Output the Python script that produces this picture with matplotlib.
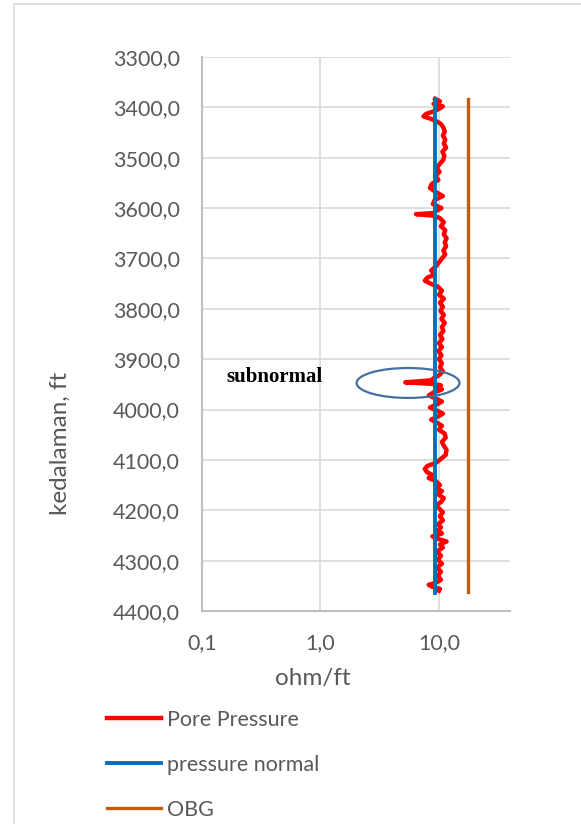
import matplotlib
matplotlib.use('Agg')
import matplotlib.pyplot as plt
from matplotlib.patches import Ellipse, Rectangle
from matplotlib.ticker import FixedLocator, FuncFormatter, NullLocator

# pore pressure trace (depth ft, value)
pore_depth = [3383, 3388, 3393, 3398, 3403, 3408, 3413, 3418, 3423, 3428, 3433, 3440, 3448, 3456,
              3464, 3472, 3480, 3488, 3496, 3504, 3512, 3520, 3528, 3536, 3544, 3552, 3560, 3568,
              3576, 3584, 3592, 3600, 3606, 3610, 3612, 3615, 3620, 3628, 3636, 3644, 3652, 3660,
              3668, 3676, 3684, 3692, 3700, 3708, 3716, 3724, 3732, 3738, 3744, 3750, 3756, 3764,
              3772, 3780, 3788, 3796, 3804, 3812, 3820, 3828, 3836, 3844, 3852, 3860, 3868, 3876,
              3884, 3892, 3900, 3908, 3916, 3924, 3932, 3938, 3942, 3946, 3949, 3952, 3956, 3960,
              3966, 3972, 3978, 3984, 3990, 3996, 4002, 4008, 4014, 4020, 4026, 4032, 4040, 4048,
              4056, 4064, 4072, 4080, 4090, 4098, 4106, 4112, 4118, 4124, 4130, 4136, 4142, 4150,
              4156, 4162, 4168, 4176, 4184, 4190, 4196, 4204, 4212, 4220, 4228, 4234, 4240, 4246,
              4252, 4256, 4262, 4268, 4274, 4282, 4290, 4298, 4306, 4314, 4322, 4330, 4338, 4344,
              4348, 4352, 4356, 4360]
pore_val = [9.3, 10.2, 9.0, 10.8, 10.0, 9.0, 7.8, 7.4, 8.6, 9.6, 10.4, 10.9, 11.2, 10.8,
            11.3, 11.0, 11.5, 10.7, 11.1, 10.9, 10.2, 9.6, 10.1, 9.3, 9.9, 8.7, 8.4, 9.4,
            10.8, 9.2, 8.9, 10.5, 9.4, 9.0, 6.4, 9.0, 10.2, 11.0, 10.4, 11.3, 11.0, 11.6,
            11.2, 11.5, 10.9, 11.3, 10.6, 10.0, 9.4, 8.6, 9.2, 8.0, 7.6, 8.5, 9.8, 10.6,
            10.0, 11.0, 10.2, 10.8, 10.3, 11.0, 10.5, 11.2, 10.6, 10.9, 10.2, 10.7, 10.0, 10.6,
            9.9, 10.5, 10.0, 10.6, 10.2, 10.8, 10.0, 9.0, 8.6, 5.2, 8.8, 10.4, 9.4, 10.6,
            9.0, 8.2, 9.4, 10.6, 9.6, 8.4, 9.6, 10.8, 9.8, 8.6, 9.6, 10.6, 10.0, 11.2,
            11.4, 10.6, 11.0, 11.6, 11.4, 10.4, 9.4, 8.0, 7.6, 7.9, 8.8, 8.2, 9.4, 10.2,
            9.4, 10.6, 9.8, 11.0, 10.4, 9.4, 10.0, 10.8, 10.2, 10.8, 9.8, 10.4, 9.8, 10.6,
            8.8, 9.6, 11.6, 10.2, 10.8, 9.6, 10.4, 9.8, 10.6, 9.6, 10.4, 9.8, 10.4, 9.4,
            8.2, 8.8, 10.2, 10.0]

normal_depth = [3383, 4365]
normal_val = [9.2, 9.2]

obg_depth = [3383, 4363]
obg_val = [17.6, 17.6]

y_ticks = list(range(3300, 4401, 100))
x_ticks = [0.1, 1.0, 10.0]

W, H = 581, 824
fig = plt.figure(figsize=(W / 100, H / 100), dpi=100)
plt.rcParams['font.family'] = ['Lato', 'DejaVu Sans']
ax = fig.add_axes([202 / W, 1 - 611 / H, (510 - 202) / W, (611 - 57) / H])

ax.plot(pore_val, pore_depth, color='#ff0000', lw=3.2, solid_joinstyle='round', label='Pore Pressure', zorder=3)
ax.plot(normal_val, normal_depth, color='#0070c0', lw=2.8, label='pressure normal', zorder=4)
ax.plot(obg_val, obg_depth, color='#c55a11', lw=2.4, label='OBG', zorder=4)

ax.set_xscale('log')
ax.set_xlim(0.1, 10 ** 1.6)
ax.set_ylim(4400, 3300)
ax.xaxis.set_major_locator(FixedLocator(x_ticks))
ax.xaxis.set_minor_locator(NullLocator())
ax.yaxis.set_major_locator(FixedLocator(y_ticks))
ax.xaxis.set_major_formatter(FuncFormatter(lambda v, p: f'{v:.1f}'.replace('.', ',')))
ax.yaxis.set_major_formatter(FuncFormatter(lambda v, p: f'{v:.1f}'.replace('.', ',')))
ax.tick_params(length=0, labelsize=15.5, labelcolor='#595959')
ax.tick_params(axis='y', pad=16)
ax.tick_params(axis='x', pad=16)
ax.grid(True, color='#d9d9d9', lw=1.2)
ax.set_axisbelow(True)
for s in ['top', 'right']:
    ax.spines[s].set_visible(False)
for s in ['left', 'bottom']:
    ax.spines[s].set_color('#bfbfbf')
    ax.spines[s].set_linewidth(1.5)

ell = Ellipse((0.669, 0.4116), 0.334, 0.054, transform=ax.transAxes, fill=False,
              edgecolor='#41719c', lw=1.6, zorder=5)
ax.add_patch(ell)
fig.text(226 / W, 1 - 377 / H, 'subnormal', fontsize=15, fontweight='bold',
         family='Liberation Serif', va='center', ha='left')

fig.text(313 / W, 1 - 678 / H, 'ohm/ft', ha='center', va='center', fontsize=17.5, color='#595959')
fig.text(60 / W, 1 - 443 / H, 'kedalaman, ft', ha='center', va='center', rotation=90,
         fontsize=17.5, color='#595959')

fig.legend(loc='upper left', bbox_to_anchor=(107 / W, 1 - 710 / H), frameon=False,
           fontsize=15.5, labelcolor='#595959', handlelength=2.5, handletextpad=0.3,
           labelspacing=1.15, borderpad=0, borderaxespad=0)

fig.patches.append(Rectangle((14 / W, -0.1), 1.2, 1.1 - 4 / H, transform=fig.transFigure,
                             fill=False, edgecolor='#d9d9d9', lw=1.2))

fig.savefig('out.png', dpi=100)
